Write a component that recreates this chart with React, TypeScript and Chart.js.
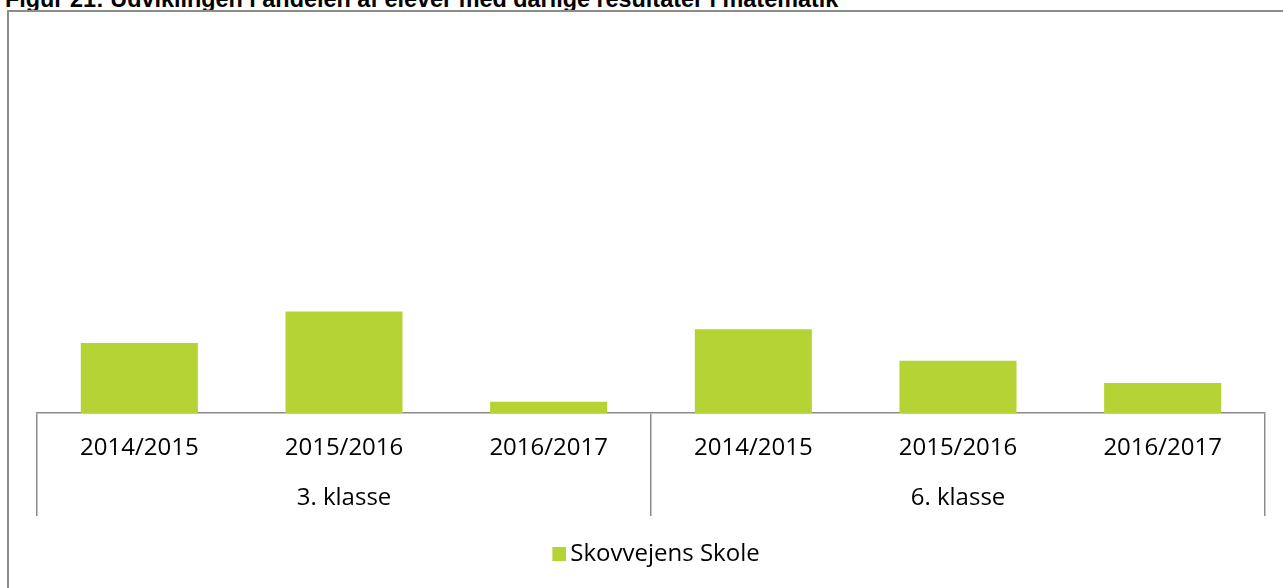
import React, { useEffect, useRef } from 'react';
import { Chart, registerables } from 'chart.js';

Chart.register(...registerables);

const titleText = 'Figur 21: Udviklingen i andelen af elever med dårlige resultater i matematik';
const categories = ['2014/2015', '2015/2016', '2016/2017', '2014/2015', '2015/2016', '2016/2017'];
const groups = ['3. klasse', '6. klasse'];
const seriesName = 'Skovvejens Skole';
const values = [13.8, 20.0, 2.2, 16.5, 10.3, 5.9];
const yMax = 80;

const GRAY = '#8c8c8c';
const GREEN = '#b5d334';
const FONT = "'Open Sans', 'Noto Sans', sans-serif";

function makeLegendSwatch(): HTMLCanvasElement {
  const c = document.createElement('canvas');
  c.width = 32;
  c.height = 14;
  const g = c.getContext('2d');
  if (g) {
    g.fillStyle = GREEN;
    g.fillRect(18, 0, 14, 14);
  }
  return c;
}

export default function App() {
  const ref = useRef<HTMLCanvasElement>(null);

  useEffect(() => {
    if (!ref.current) return;
    const groupSize = categories.length / groups.length;
    const sepColor = (ctx: any) =>
      ctx.index === undefined || ctx.index % groupSize === 0 ? GRAY : 'rgba(0,0,0,0)';
    const swatch = makeLegendSwatch();
    const chart = new Chart(ref.current, {
      type: 'bar',
      data: {
        labels: categories,
        datasets: [
          {
            label: seriesName,
            data: values,
            backgroundColor: GREEN,
            borderWidth: 0,
            barPercentage: 0.572,
            categoryPercentage: 1,
            xAxisID: 'x',
            yAxisID: 'y',
          },
        ],
      },
      options: {
        animation: false,
        responsive: false,
        layout: { padding: { left: 37, right: 18, top: 7, bottom: 12 } },
        plugins: {
          legend: {
            position: 'bottom',
            labels: {
              usePointStyle: true,
              pointStyle: swatch,
              boxWidth: 16,
              boxHeight: 14,
              padding: 6,
              color: '#000',
              font: { family: FONT, size: 24 },
            },
          },
          tooltip: { enabled: false },
        },
        scales: {
          x: {
            type: 'category',
            position: 'bottom',
            offset: true,
            grid: {
              offset: true,
              drawOnChartArea: false,
              drawTicks: true,
              tickLength: 52,
              lineWidth: 1.5,
              color: sepColor,
              tickColor: sepColor,
            },
            border: { display: true, color: GRAY, width: 1.5 },
            ticks: {
              padding: -31,
              color: '#000',
              autoSkip: false,
              maxRotation: 0,
              font: { family: FONT, size: 24 },
            },
            afterFit: (s: any) => {
              s.height = 52;
            },
          },
          x2: {
            type: 'category',
            labels: groups,
            position: 'bottom',
            offset: true,
            grid: {
              offset: true,
              drawOnChartArea: false,
              drawTicks: true,
              tickLength: 51,
              lineWidth: 1.5,
              color: GRAY,
              tickColor: GRAY,
            },
            border: { display: false },
            ticks: {
              padding: -32,
              color: '#000',
              autoSkip: false,
              maxRotation: 0,
              font: { family: FONT, size: 24 },
            },
            afterFit: (s: any) => {
              s.height = 71;
            },
          },
          y: { display: false, min: 0, max: yMax },
        },
      } as any,
    });
    return () => chart.destroy();
  }, []);

  return (
    <div
      style={{
        position: 'fixed',
        left: 0,
        top: 0,
        width: 1283,
        height: 588,
        overflow: 'hidden',
        background: '#fff',
      }}
    >
      <div
        style={{
          position: 'absolute',
          left: 5,
          top: -13,
          fontFamily: "'Liberation Sans', Arial, sans-serif",
          fontWeight: 'bold',
          fontSize: 23.4,
          lineHeight: '24px',
          whiteSpace: 'nowrap',
          color: '#000',
        }}
      >
        {titleText}
      </div>
      <div
        style={{
          position: 'absolute',
          left: 7,
          top: 10,
          width: 1400,
          height: 700,
          borderLeft: `2px solid ${GRAY}`,
          borderTop: `2px solid ${GRAY}`,
        }}
      />
      <canvas
        ref={ref}
        width={1283}
        height={588}
        style={{ position: 'absolute', left: 0, top: 0, display: 'block' }}
      />
    </div>
  );
}
